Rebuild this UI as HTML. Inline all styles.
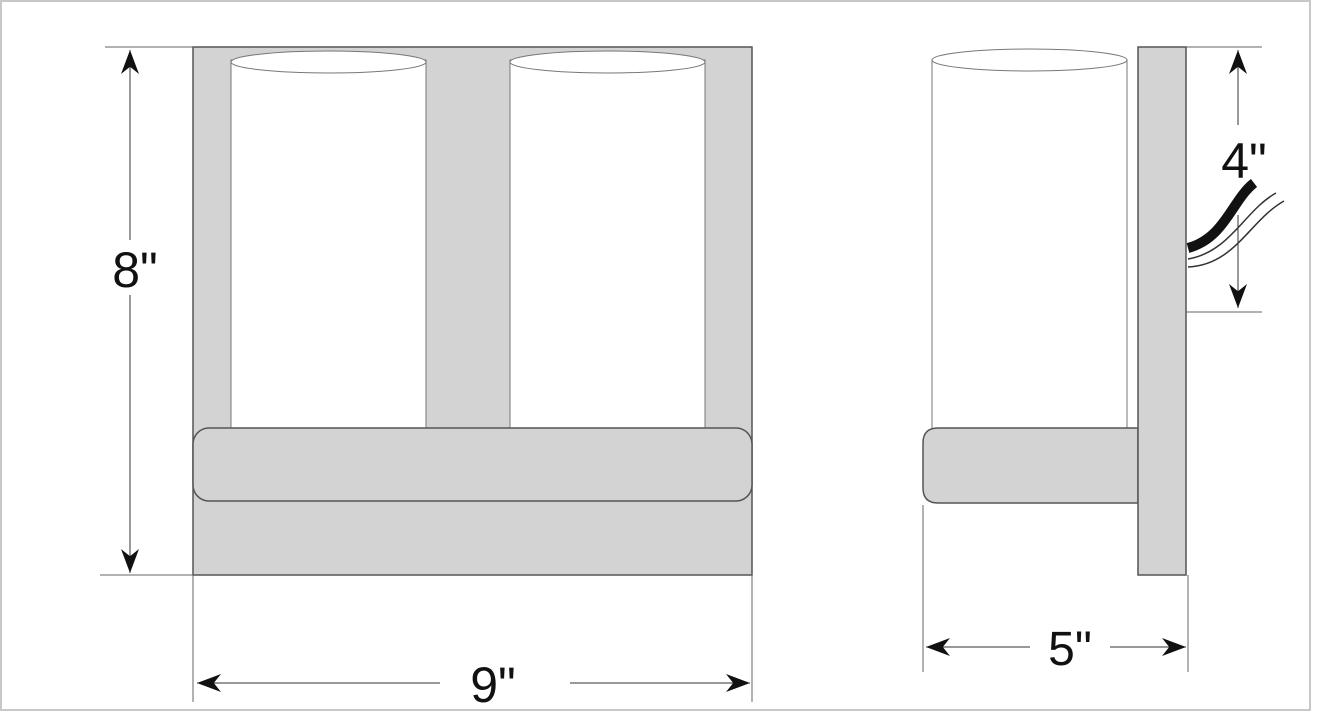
<!DOCTYPE html>
<html><head><style>html,body{margin:0;padding:0;background:#fff}svg{display:block}</style></head>
<body>
<svg width="1317" height="720" viewBox="0 0 1317 720" xmlns="http://www.w3.org/2000/svg">
<defs>
<marker id="a" viewBox="0 0 10 10" refX="10" refY="5" markerWidth="24" markerHeight="18" markerUnits="userSpaceOnUse" orient="auto" preserveAspectRatio="none"><path d="M0,0 L10,5 L0,10 L3,5 Z" fill="#111"/></marker>
</defs>
<rect x="1" y="1" width="1309" height="709" fill="#fff" stroke="#c8c8c8" stroke-width="2"/>
<rect x="193" y="47" width="559" height="528" fill="#d3d3d3" stroke="#555" stroke-width="1.5"/>
<rect x="231" y="60" width="195" height="370" fill="#fff" stroke="#777" stroke-width="1"/>
<ellipse cx="328.5" cy="62" rx="97.5" ry="11" fill="#fff" stroke="#777"/>
<rect x="510" y="60" width="195" height="370" fill="#fff" stroke="#777" stroke-width="1"/>
<ellipse cx="607.5" cy="62" rx="97.5" ry="11" fill="#fff" stroke="#777"/>
<rect x="193" y="428" width="559" height="73" rx="16" fill="#d3d3d3" stroke="#555" stroke-width="1.5"/>
<line x1="105" y1="47" x2="193" y2="47" stroke="#666"/>
<line x1="100" y1="575" x2="193" y2="575" stroke="#666"/>
<line x1="130" y1="240" x2="130" y2="50" stroke="#333" marker-end="url(#a)"/>
<line x1="130" y1="295" x2="130" y2="573" stroke="#333" marker-end="url(#a)"/>
<text x="135" y="287" font-family="Liberation Sans, sans-serif" font-size="50" text-anchor="middle" fill="#111">8"</text>
<line x1="193" y1="575" x2="193" y2="702" stroke="#666"/>
<line x1="752" y1="575" x2="752" y2="702" stroke="#666"/>
<line x1="440" y1="683" x2="197" y2="683" stroke="#333" marker-end="url(#a)"/>
<line x1="570" y1="683" x2="750" y2="683" stroke="#333" marker-end="url(#a)"/>
<text x="493" y="702" font-family="Liberation Sans, sans-serif" font-size="50" text-anchor="middle" fill="#111">9"</text>
<rect x="932" y="60" width="195" height="370" fill="#fff" stroke="#777"/>
<ellipse cx="1029.5" cy="60" rx="97.5" ry="11" fill="#fff" stroke="#777"/>
<path d="M938,428 H1138 V503 H938 Q923,503 923,488 V443 Q923,428 938,428 Z" fill="#d3d3d3" stroke="#555" stroke-width="1.5"/>
<rect x="1138" y="47" width="48" height="528" fill="#d3d3d3" stroke="#555" stroke-width="1.5"/>
<line x1="1186" y1="47" x2="1262" y2="47" stroke="#666"/>
<line x1="1186" y1="312" x2="1262" y2="312" stroke="#666"/>
<line x1="1238" y1="125" x2="1238" y2="50" stroke="#333" marker-end="url(#a)"/>
<line x1="1238" y1="215" x2="1238" y2="308" stroke="#333" marker-end="url(#a)"/>
<text x="1244" y="178" font-family="Liberation Sans, sans-serif" font-size="50" text-anchor="middle" fill="#111">4"</text>
<path d="M1188,248 C1225,238 1232,200 1254,183" stroke="#111" stroke-width="10" fill="none"/>
<path d="M1188,259 C1230,252 1245,210 1276,193" stroke="#333" stroke-width="1.5" fill="none"/>
<path d="M1188,267 C1235,265 1250,220 1284,201" stroke="#333" stroke-width="1.5" fill="none"/>
<line x1="923" y1="505" x2="923" y2="672" stroke="#666"/>
<line x1="1188" y1="575" x2="1188" y2="672" stroke="#666"/>
<line x1="1030" y1="647" x2="926" y2="647" stroke="#333" marker-end="url(#a)"/>
<line x1="1110" y1="647" x2="1186" y2="647" stroke="#333" marker-end="url(#a)"/>
<text x="1070" y="665" font-family="Liberation Sans, sans-serif" font-size="48" text-anchor="middle" fill="#111">5"</text>
</svg>
</body></html>
